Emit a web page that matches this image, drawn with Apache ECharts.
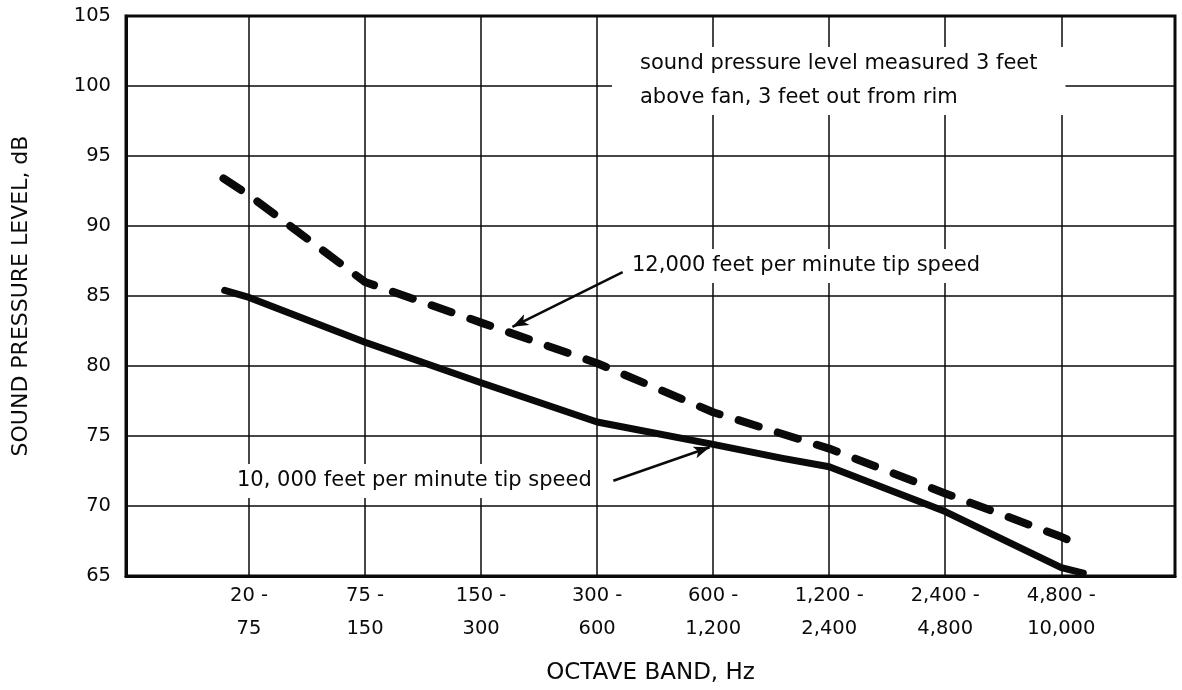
<!DOCTYPE html>
<html>
<head>
<meta charset="utf-8">
<script src="https://cdn.jsdelivr.net/npm/echarts@6/dist/echarts.min.js"></script>
<style>
html,body{margin:0;padding:0;background:#fff;}
#chart{width:1182px;height:690px;}
</style>
</head>
<body>
<div id="chart"></div>
<script>
// ---- data ----
const bandLabels = ['20 -\n75', '75 -\n150', '150 -\n300', '300 -\n600', '600 -\n1,200', '1,200 -\n2,400', '2,400 -\n4,800', '4,800 -\n10,000'];
const bandPositions = [0, 1, 2, 3, 4, 5, 6, 7];
const yTickMin = 65;
const yTickMax = 105;
const yTickStep = 5;

// 10,000 feet per minute tip speed (solid)
const speed10000X = [-0.21, 0, 1, 2, 3, 4, 4.6, 5, 6, 7, 7.19];
const speed10000Y = [85.4, 84.9, 81.7, 78.8, 76.0, 74.4, 73.4, 72.8, 69.6, 65.6, 65.2];

// 12,000 feet per minute tip speed (dashed)
const speed12000X = [-0.22, 0, 1, 2, 3, 4, 5, 6, 7, 7.19];
const speed12000Y = [93.4, 92.2, 86.0, 83.1, 80.2, 76.7, 74.1, 70.9, 67.8, 67.1];

// annotation arrows (data coordinates: [from, to])
const arrow12000 = [[3.22, 86.7], [2.27, 82.8]];
const arrow10000 = [[3.14, 71.8], [3.97, 74.2]];

const noteText = 'sound pressure level measured 3 feet\nabove fan, 3 feet out from rim';
const label12000 = '12,000 feet per minute tip speed';
const label10000 = '10, 000 feet per minute tip speed';

// ---- chart ----
const FONT = '"DejaVu Sans", "Liberation Sans", Arial, sans-serif';
const INK = '#0a0a0a';
const chart = echarts.init(document.getElementById('chart'), null, {renderer: 'canvas'});

function pairs(xs, ys) { return xs.map((x, i) => [x, ys[i]]); }

const arrowLine = (a) => [{coord: a[0]}, {coord: a[1]}];

chart.setOption({
  animation: false,
  backgroundColor: '#ffffff',
  grid: {
    left: 126, right: 7, top: 16, bottom: 114,
    show: true, borderColor: INK, borderWidth: 3, backgroundColor: 'transparent'
  },
  xAxis: {
    type: 'value',
    min: -1.06, max: 7.98,
    name: 'OCTAVE BAND, Hz',
    nameLocation: 'middle',
    nameGap: 86,
    nameTextStyle: {fontFamily: FONT, fontSize: 23, color: INK},
    axisLine: {show: true, onZero: false, lineStyle: {color: INK, width: 3}},
    axisTick: {show: false, customValues: bandPositions},
    axisLabel: {
      customValues: bandPositions,
      formatter: (v) => bandLabels[Math.round(v)] || '',
      fontFamily: FONT, fontSize: 19.5, color: INK, lineHeight: 33, margin: 3, align: 'center'
    },
    splitLine: {show: true, lineStyle: {color: INK, width: 1.5}}
  },
  yAxis: {
    type: 'value',
    min: yTickMin, max: yTickMax, interval: yTickStep,
    name: 'SOUND PRESSURE LEVEL, dB',
    nameLocation: 'middle',
    nameRotate: 90,
    nameGap: 94,
    nameTextStyle: {fontFamily: FONT, fontSize: 22, color: INK},
    axisLine: {show: true, onZero: false, lineStyle: {color: INK, width: 3}},
    axisTick: {show: false},
    axisLabel: {fontFamily: FONT, fontSize: 19.5, color: INK, margin: 15},
    splitLine: {show: true, lineStyle: {color: INK, width: 1.5}}
  },
  series: [
    {
      name: '10,000 feet per minute tip speed',
      type: 'line',
      data: pairs(speed10000X, speed10000Y),
      symbol: 'none',
      lineStyle: {color: INK, width: 7, cap: 'round', join: 'round'},
      z: 5,
      markLine: {
        silent: true, animation: false,
        symbol: ['none', 'arrow'], symbolSize: [9, 16],
        label: {show: false},
        lineStyle: {color: INK, width: 2.5, type: 'solid'},
        data: [arrowLine(arrow10000)]
      }
    },
    {
      name: '12,000 feet per minute tip speed',
      type: 'line',
      data: pairs(speed12000X, speed12000Y),
      symbol: 'none',
      lineStyle: {color: INK, width: 8, type: [21, 20], cap: 'round', join: 'round'},
      z: 5,
      markLine: {
        silent: true, animation: false,
        symbol: ['none', 'arrow'], symbolSize: [9, 16],
        label: {show: false},
        lineStyle: {color: INK, width: 2.5, type: 'solid'},
        data: [arrowLine(arrow12000)]
      }
    }
  ],
  graphic: [
    {
      type: 'text', left: 612, top: 47, z: 10,
      style: {
        text: noteText, font: '21px ' + FONT, fill: INK, lineHeight: 34,
        backgroundColor: '#fff', padding: [0, 28, 0, 28]
      }
    },
    {
      type: 'text', left: 628, top: 249, z: 10,
      style: {
        text: label12000, font: '21px ' + FONT, fill: INK, lineHeight: 24,
        backgroundColor: '#fff', padding: [5, 4, 5, 4]
      }
    },
    {
      type: 'text', left: 233, top: 464, z: 10,
      style: {
        text: label10000, font: '21px ' + FONT, fill: INK, lineHeight: 24,
        backgroundColor: '#fff', padding: [5, 4, 5, 4]
      }
    }
  ]
});
</script>
</body>
</html>
